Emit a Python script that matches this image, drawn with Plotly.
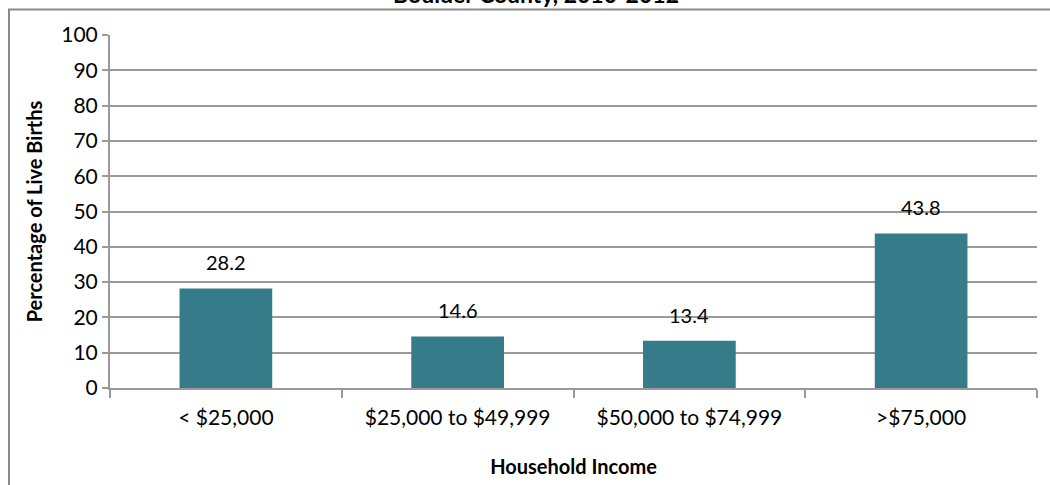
import plotly.graph_objects as go

categories = ["< $25,000", "$25,000 to $49,999", "$50,000 to $74,999", ">$75,000"]
values = [28.2, 14.6, 13.4, 43.8]
value_labels = ["28.2", "14.6", "13.4", "43.8"]
y_ticks = [0, 10, 20, 30, 40, 50, 60, 70, 80, 90, 100]

W, H = 1050, 485
L, R, T, B = 110, 13, 35, 97
pw, ph = W - L - R, H - T - B

def px(x):
    return (x - L) / pw

def py(y):
    return (H - B - y) / ph

FONT = "Lato, 'Open Sans', sans-serif"
GRID = "#9a9a9a"

fig = go.Figure(go.Bar(
    x=categories, y=values,
    marker=dict(color="#367B8A", line=dict(width=0)),
    hoverinfo="skip",
))

label_annotations = [
    dict(x=c, y=v, text=t, xref="x", yref="y", showarrow=False,
         yanchor="bottom", yshift=12, font=dict(size=20, family=FONT, color="#000"))
    for c, v, t in zip(categories, values, value_labels)
]

fig.update_layout(
    width=W, height=H,
    margin=dict(l=L, r=R, t=T, b=B, autoexpand=False),
    paper_bgcolor="white", plot_bgcolor="white",
    bargap=0.6, showlegend=False,
    font=dict(family=FONT, size=21, color="#000"),
    xaxis=dict(
        showgrid=False, showline=True, linecolor=GRID, linewidth=2,
        ticks="outside", ticklen=8, tickcolor=GRID, tickwidth=2,
        tickson="boundaries", tickfont=dict(size=21), ticklabelstandoff=10,
        title=dict(text="<b>Household Income</b>", font=dict(size=20), standoff=32),
    ),
    yaxis=dict(
        range=[0, 100], tickvals=y_ticks, showgrid=True, gridcolor=GRID, gridwidth=2,
        showline=True, linecolor=GRID, linewidth=2,
        ticks="outside", ticklen=6, tickcolor=GRID, tickwidth=2,
        tickfont=dict(size=21), zeroline=False,
        title=dict(text="<b>Percentage of Live Births</b>", font=dict(size=20), standoff=13),
    ),
    shapes=[
        dict(type="line", xref="paper", yref="paper", x0=px(9), x1=px(9), y0=py(9), y1=py(500),
             line=dict(color="#8a8a8a", width=2)),
        dict(type="line", xref="paper", yref="paper", x0=px(8), x1=px(1060), y0=py(9.5), y1=py(9.5),
             line=dict(color="#8a8a8a", width=2)),
    ],
    annotations=label_annotations + [
        dict(text="<b>Boulder County, 2010-2012</b>", xref="paper", yref="paper",
             x=px(536), y=py(10), xanchor="center", yanchor="bottom", showarrow=False,
             font=dict(size=23, family=FONT, color="#000")),
    ],
)

fig.write_html("out.html", config={"displayModeBar": False},
               post_script="document.body.style.margin='0';document.body.style.overflow='hidden';")
